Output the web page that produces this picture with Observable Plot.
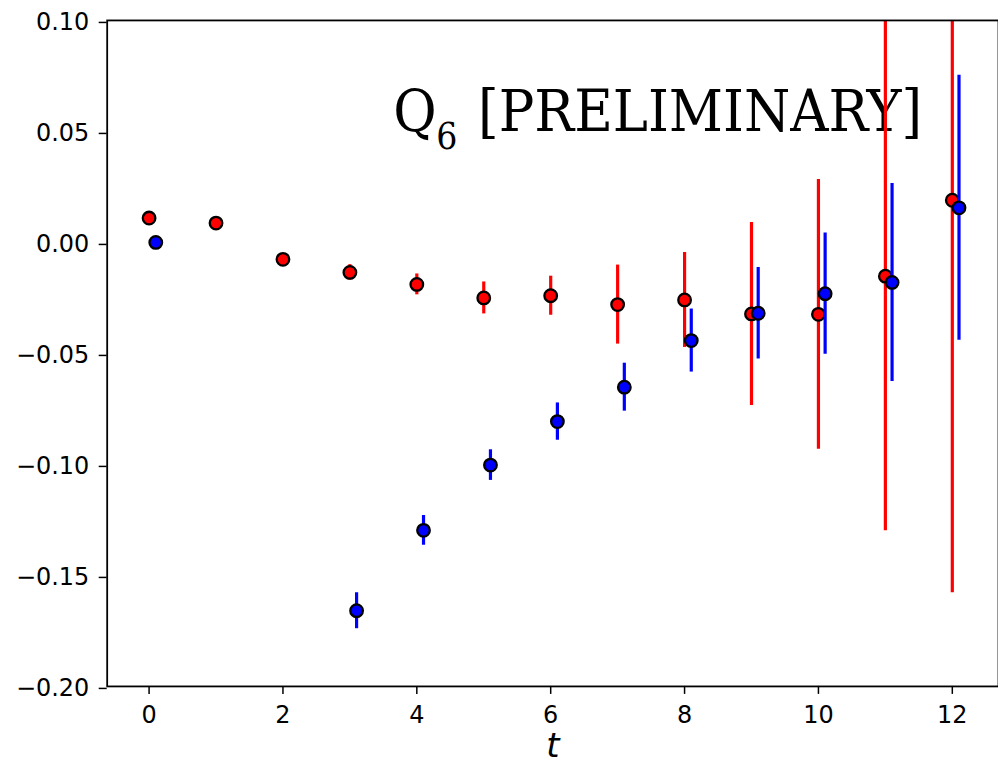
<!DOCTYPE html>
<html>
<head>
<meta charset="utf-8">
<script src="https://cdn.jsdelivr.net/npm/d3@7"></script>
<script src="https://cdn.jsdelivr.net/npm/@observablehq/plot@0.6"></script>
<style>
  html, body { margin: 0; padding: 0; background: #fff; }
  #chart { width: 998px; height: 768px; overflow: hidden; }
  #chart svg { display: block; }
</style>
</head>
<body>
<div id="chart"></div>
<script>
// Series 1 (red): t = 0..12
const redT = [0, 1, 2, 3, 4, 5, 6, 7, 8, 9, 10, 11, 12];
const redValues = [0.011, 0.0087, -0.0076, -0.0135, -0.0189, -0.025, -0.024, -0.028, -0.0259, -0.0322, -0.0324, -0.0152, 0.019];
const redErrors = [0.0005, 0.001, 0.0015, 0.0035, 0.0047, 0.0072, 0.0088, 0.0178, 0.0214, 0.0412, 0.0608, 0.1147, 0.1768];

// Series 2 (blue): shifted by 0.1 in t
const blueT = [0.1, 3.1, 4.1, 5.1, 6.1, 7.1, 8.1, 9.1, 10.1, 11.1, 12.1];
const blueValues = [0.0, -0.1659, -0.1297, -0.1003, -0.0807, -0.0652, -0.0442, -0.0319, -0.0231, -0.018, 0.0156];
const blueErrors = [0, 0.0081, 0.0067, 0.0069, 0.0084, 0.0108, 0.0142, 0.0206, 0.0273, 0.0446, 0.0597];

// Ticks and labels
const xTicks = [0, 2, 4, 6, 8, 10, 12];
const yTicks = [-0.2, -0.15, -0.1, -0.05, 0, 0.05, 0.1];
const xLabel = "t";
const titleMain = "Q";
const titleSub = "6";
const titleRest = "[PRELIMINARY]";

const red = redT.map((t, i) => ({t, v: redValues[i], lo: redValues[i] - redErrors[i], hi: redValues[i] + redErrors[i]}));
const blue = blueT.map((t, i) => ({t, v: blueValues[i], lo: blueValues[i] - blueErrors[i], hi: blueValues[i] + blueErrors[i]}));

const serif = "'DejaVu Serif Condensed', 'DejaVu Serif', serif";
const sans = "'DejaVu Sans', sans-serif";

const plot = Plot.plot({
  width: 1001,
  height: 768,
  marginLeft: 107,
  marginRight: 0,
  marginTop: 20,
  marginBottom: 80,
  style: {fontFamily: sans, background: "#fff", color: "#000"},
  x: {domain: [-0.626, 12.69]},
  y: {domain: [-0.2, 0.1]},
  marks: [
    Plot.text([titleMain], {frameAnchor: "top-left", text: d => d, dx: 287, dy: 111, lineAnchor: "bottom", fontSize: 59, fontFamily: serif, fontStretch: "condensed"}),
    Plot.text([titleSub], {frameAnchor: "top-left", text: d => d, dx: 330, dy: 129, lineAnchor: "bottom", fontSize: 37, fontFamily: serif, fontStretch: "condensed"}),
    Plot.text([titleRest], {frameAnchor: "top-left", text: d => d, dx: 372, dy: 111, lineAnchor: "bottom", fontSize: 59, fontFamily: serif, fontStretch: "condensed"}),
    Plot.ruleX(red, {x: "t", y1: "lo", y2: "hi", stroke: "#ff0000", strokeWidth: 3.2, clip: true}),
    Plot.dot(red, {x: "t", y: "v", r: 6.3, fill: "#ff0000", stroke: "#000", strokeWidth: 2.3}),
    Plot.ruleX(blue, {x: "t", y1: "lo", y2: "hi", stroke: "#0000ff", strokeWidth: 3.2, clip: true}),
    Plot.dot(blue, {x: "t", y: "v", r: 6.3, fill: "#0000ff", stroke: "#000", strokeWidth: 2.3}),
    Plot.axisY({ticks: yTicks, tickFormat: d3.format(".2f"), tickSize: 8, tickPadding: 10, fontSize: 24, fontFamily: sans, dy: 2, strokeWidth: 1.5, label: null}),
    Plot.axisX({ticks: xTicks, tickFormat: d3.format("d"), tickSize: 8, tickPadding: 12, fontSize: 24, fontFamily: sans, strokeWidth: 1.5, label: null}),
    Plot.text([xLabel], {frameAnchor: "bottom", text: d => d, dy: 71, lineAnchor: "bottom", fontSize: 34, fontStyle: "italic", fontFamily: sans}),
    Plot.frame({stroke: "#000", strokeWidth: 1.8})
  ]
});
document.getElementById("chart").appendChild(plot);
</script>
</body>
</html>
